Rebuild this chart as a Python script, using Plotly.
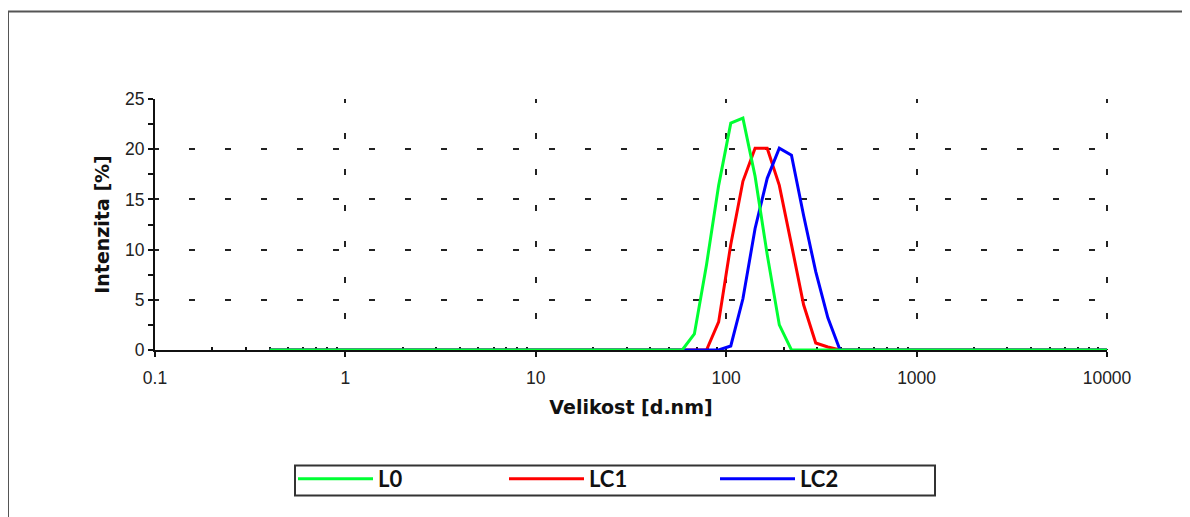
import plotly.graph_objects as go

# Size bins [d.nm]
sizes = [0.4, 0.4632, 0.5365, 0.6213, 0.7195, 0.8332, 0.9649, 1.117, 1.294, 1.499,
         1.736, 2.01, 2.328, 2.696, 3.122, 3.615, 4.187, 4.849, 5.615, 6.503,
         7.531, 8.721, 10.1, 11.7, 13.54, 15.69, 18.17, 21.04, 24.36, 28.21,
         32.67, 37.84, 43.82, 50.75, 58.77, 68.06, 78.82, 91.28, 105.7, 122.4,
         141.8, 164.2, 190.1, 220.2, 255.0, 295.3, 342.0, 396.1, 458.7, 531.2,
         615.1, 712.4, 825.0, 955.4, 1106, 1281, 1484, 1718, 1990, 2305,
         2669, 3091, 3580, 4145, 4801, 5560, 6439, 7456, 8635, 10000]

# Intensity [%] per bin
L0 = [0] * 35 + [1.6, 8.5, 16.4, 22.6, 23.1, 17.3, 9.5, 2.5] + [0] * 27
LC1 = [0] * 37 + [2.8, 10.5, 16.8, 20.1, 20.1, 16.4, 10.5, 4.5, 0.7, 0.3] + [0] * 23
LC2 = [0] * 38 + [0.4, 5.1, 12.1, 17.1, 20.1, 19.4, 13.4, 7.8, 3.2] + [0] * 23

series_names = ["L0", "LC1", "LC2"]
series_colors = ["#00ff33", "#ff0000", "#0000ff"]

x_tickvals = [0.1, 1, 10, 100, 1000, 10000]
x_ticktext = ["0.1", "1", "10", "100", "1000", "10000"]
x_minor = [m * d for d in [0.1, 1, 10, 100, 1000] for m in [2, 3, 4, 5, 6, 7, 8, 9]]

fig = go.Figure()
# draw order: LC1, LC2, then L0 on top
for name, vals, col, rank in [("LC1", LC1, series_colors[1], 2),
                              ("LC2", LC2, series_colors[2], 3),
                              ("L0", L0, series_colors[0], 1)]:
    fig.add_trace(go.Scatter(x=sizes, y=vals, mode="lines", name=name,
                             line=dict(color=col, width=3), legendrank=rank))

grid_dash = "4px,30px,2px,0px"

# plot area on screen: x 155..1107, y 99..350 (page has 8px body offset)
PW, PH = 952, 251
def px(sx):
    return (sx - 155) / PW
def py(sy):
    return (350 - sy) / PH

fig.update_layout(
    width=1190, height=517,
    margin=dict(l=147, r=91, t=91, b=175),
    paper_bgcolor="white", plot_bgcolor="white",
    showlegend=True,
    legend=dict(orientation="h", x=px(293), y=py(458),
                xanchor="left", yanchor="top", borderwidth=0,
                bgcolor="rgba(0,0,0,0)",
                itemwidth=75, entrywidth=121,
                font=dict(family="Lato", size=22, color="#111111", weight="bold")),
    xaxis=dict(type="log", range=[-1, 4], layer="below traces",
               tickvals=x_tickvals, ticktext=x_ticktext,
               ticks="outside", ticklen=5, tickwidth=1.5, tickcolor="#111",
               ticklabelstandoff=6,
               showline=True, linecolor="#111", linewidth=2,
               showgrid=True, gridcolor="#222", gridwidth=2, griddash=grid_dash,
               zeroline=False,
               minor=dict(tickvals=x_minor, ticks="inside", ticklen=3,
                          tickwidth=1.5, tickcolor="#111", showgrid=False),
               tickfont=dict(family="Liberation Sans", size=17.5, color="#222"),
               title=dict(text="Velikost [d.nm]", standoff=14,
                          font=dict(family="DejaVu Sans", size=19, color="#111",
                                    weight="bold"))),
    yaxis=dict(range=[0, 25], dtick=5, layer="below traces",
               ticks="outside", ticklen=5, tickwidth=1.5, tickcolor="#111",
               showline=True, linecolor="#111", linewidth=2,
               showgrid=True, gridcolor="#222", gridwidth=2, griddash=grid_dash,
               zeroline=False,
               minor=dict(dtick=2.5, ticks="outside", ticklen=5, tickwidth=1.5,
                          tickcolor="#111", showgrid=False),
               tickfont=dict(family="Liberation Sans", size=17.5, color="#222"),
               title=dict(text="Intenzita [%]", standoff=10,
                          font=dict(family="DejaVu Sans", size=19, color="#111",
                                    weight="bold"))),
    shapes=[
        # outer frame
        dict(type="rect", xref="paper", yref="paper",
             x0=px(8), x1=px(1210), y0=py(540), y1=py(11.5),
             line=dict(color="#555555", width=2), layer="below"),
        # legend frame
        dict(type="rect", xref="paper", yref="paper",
             x0=px(295), x1=px(935), y0=py(495.5), y1=py(465.5),
             line=dict(color="#333333", width=2), layer="below"),
        # gridline at right edge
        dict(type="line", xref="paper", yref="paper", x0=1, x1=1, y0=1, y1=0,
             line=dict(color="#222", width=2, dash=grid_dash), layer="below"),
    ],
)

fig.write_html("out.html")
